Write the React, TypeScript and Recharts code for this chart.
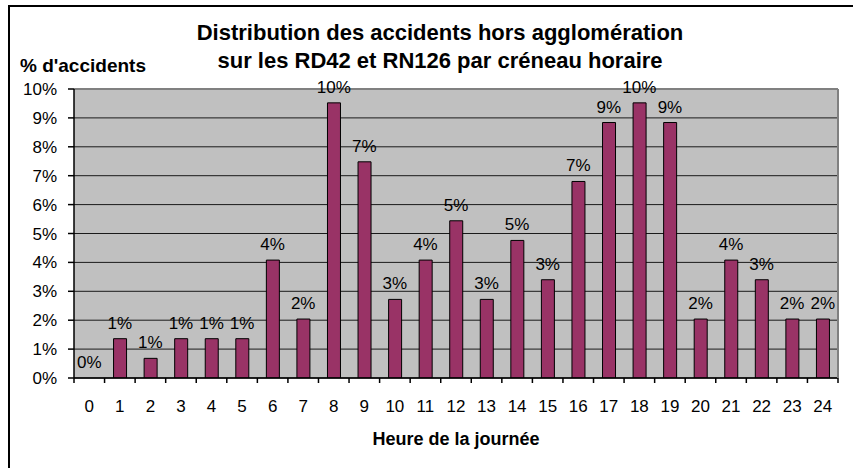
import React from 'react';
import { ComposedChart, Bar, Line, XAxis, YAxis, CartesianGrid, LabelList } from 'recharts';

const hours = ['0', '1', '2', '3', '4', '5', '6', '7', '8', '9', '10', '11', '12', '13', '14', '15', '16', '17', '18', '19', '20', '21', '22', '23', '24'];
const percentValues = [0, 1.36, 0.68, 1.36, 1.36, 1.36, 4.08, 2.04, 9.52, 7.48, 2.72, 4.08, 5.44, 2.72, 4.76, 3.4, 6.8, 8.84, 9.52, 8.84, 2.04, 4.08, 3.4, 2.04, 2.04];
const yTicks = [0, 1, 2, 3, 4, 5, 6, 7, 8, 9, 10];
const titleLines = ['Distribution des accidents hors agglomération', 'sur les RD42 et RN126 par créneau horaire'];
const yLabel = "% d'accidents";
const xLabel = 'Heure de la journée';

const data = hours.map((h, i) => ({ hour: h, pct: percentValues[i] }));

const FONT = '"Liberation Sans", Arial, sans-serif';
const X_TICK_MARGIN = 22;
const X_TICK_LEN = 5;

const renderTopLabel = (props: any) => {
  const { x, y, width, value } = props;
  const cx = Number(x) + (Number(width) || 0) / 2;
  return (
    <text x={cx} y={Number(y) - 10} textAnchor="middle" fontSize={17} fill="#000" fontFamily={FONT}>
      {`${Math.round(Number(value))}%`}
    </text>
  );
};

const HourTick = (props: any) => {
  const { x, y, payload, index, visibleTicksCount, width } = props;
  const half = typeof payload?.offset === 'number' && payload.offset > 0
    ? payload.offset
    : Number(width) / Number(visibleTicksCount) / 2;
  const axisY = Number(y) - X_TICK_MARGIN;
  return (
    <g>
      <line x1={x - half} x2={x - half} y1={axisY} y2={axisY + X_TICK_LEN} stroke="#000" strokeWidth={1.5} />
      {index === visibleTicksCount - 1 && (
        <line x1={x + half} x2={x + half} y1={axisY} y2={axisY + X_TICK_LEN} stroke="#000" strokeWidth={1.5} />
      )}
      <text x={x} y={y} dy="0.71em" textAnchor="middle" fontSize={17} fill="#000" fontFamily={FONT}>
        {payload.value}
      </text>
    </g>
  );
};

export default function App() {
  return (
    <div style={{ position: 'absolute', left: 0, top: 0, width: 853, height: 468, overflow: 'hidden', background: '#fff', fontFamily: FONT }}>
      <div style={{ position: 'absolute', left: 8, top: 5, width: 845, height: 463, borderTop: '2px solid #000', borderLeft: '2px solid #000', boxSizing: 'border-box' }} />
      <div style={{ position: 'absolute', left: 0, top: 19, width: 880, textAlign: 'center', fontWeight: 'bold', fontSize: 22, lineHeight: '27.6px', color: '#000' }}>
        <div>{titleLines[0]}</div>
        <div>{titleLines[1]}</div>
      </div>
      <div style={{ position: 'absolute', left: 20, top: 56, fontWeight: 'bold', fontSize: 19, lineHeight: '19px', color: '#000', whiteSpace: 'nowrap' }}>{yLabel}</div>
      <div style={{ position: 'absolute', left: 306, top: 430, width: 300, textAlign: 'center', fontWeight: 'bold', fontSize: 18, lineHeight: '18px', color: '#000' }}>{xLabel}</div>
      <div style={{ position: 'absolute', left: 0, top: 0 }}>
        <ComposedChart width={853} height={468} data={data} margin={{ top: 88, right: 14, bottom: 89, left: 73 }}>
          <CartesianGrid xAxisId="cat" yAxisId="left" vertical={false} horizontal={true} fill="#C0C0C0" fillOpacity={1} stroke="#1a1a1a" strokeWidth={1} />
          <XAxis xAxisId="cat" dataKey="hour" height={1} interval={0} tickLine={false} tickSize={0} tickMargin={X_TICK_MARGIN}
            axisLine={{ stroke: '#000', strokeWidth: 1.5 }} tick={<HourTick />} />
          <XAxis xAxisId="top" orientation="top" type="number" domain={[0, 1]} allowDataOverflow height={1}
            tick={false} tickLine={false} axisLine={{ stroke: '#808080', strokeWidth: 2 }} />
          <YAxis yAxisId="left" domain={[0, 10]} ticks={yTicks} interval={0} width={1} allowDataOverflow
            tickFormatter={(v: number) => `${v}%`} tickSize={6} tickMargin={11}
            tick={{ fontSize: 17, fill: '#000', fontFamily: FONT }} tickLine={{ stroke: '#000', strokeWidth: 1.5 }} axisLine={{ stroke: '#000', strokeWidth: 1.5 }} />
          <YAxis yAxisId="right" orientation="right" domain={[0, 10]} width={1} tick={false} tickLine={false}
            axisLine={{ stroke: '#808080', strokeWidth: 2 }} />
          <Bar xAxisId="cat" yAxisId="left" dataKey="pct" fill="#993366" stroke="#000" strokeWidth={1} barSize={13} isAnimationActive={false} />
          <Line xAxisId="cat" yAxisId="left" dataKey="pct" stroke="none" dot={false} activeDot={false} legendType="none" isAnimationActive={false}>
            <LabelList dataKey="pct" content={renderTopLabel} />
          </Line>
        </ComposedChart>
      </div>
    </div>
  );
}
